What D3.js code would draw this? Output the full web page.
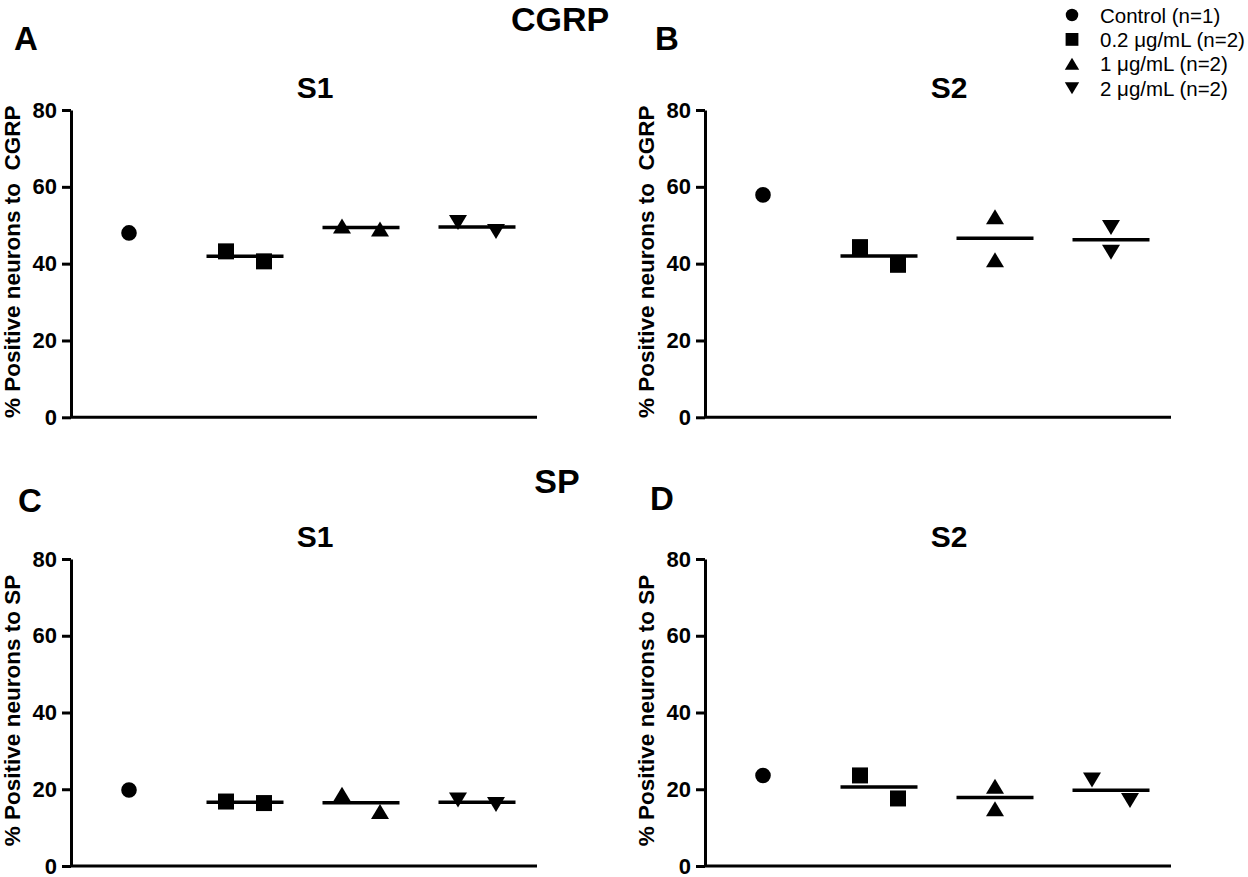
<!DOCTYPE html>
<html>
<head>
<meta charset="utf-8">
<script src="https://cdn.jsdelivr.net/npm/d3@7"></script>
<style>
body { margin: 0; background: #fff; }
text { font-family: "Liberation Sans", Arial, Helvetica, sans-serif; fill: #000; }
</style>
</head>
<body>
<div id="chart"></div>
<script>
// groups (legend order) and y ticks
const groups = ["Control (n=1)", "0.2 μg/mL (n=2)", "1 μg/mL (n=2)", "2 μg/mL (n=2)"];
const yTicks = [0, 20, 40, 60, 80];

// % positive neurons, one array per group
const cgrpS1 = [[48.0], [43.2, 40.6], [49.8, 49.0], [50.7, 48.4]];
const cgrpS2 = [[57.9], [44.3, 39.7], [52.2, 41.0], [49.4, 43.0]];
const spS1 = [[19.8], [16.8, 16.4], [18.7, 14.2], [17.2, 16.0]];
const spS2 = [[23.6], [23.6, 17.6], [20.8, 14.9], [22.4, 17.1]];

const shapes = ["circle", "square", "up", "down"];
// two points of a group get pushed apart when they sit closer than this (px)
const spreadGap = { circle: 0, square: 24, up: 21, down: 21 };

const width = 1248;
const height = 877;
const plotW = 466;

const panels = [
    { letter: "A", lx: 14, ly: 50, title: "S1", ylabel: "% Positive neurons to  CGRP", data: cgrpS1, x0: 71, top: 110, bottom: 417.3 },
    { letter: "B", lx: 655, ly: 50, title: "S2", ylabel: "% Positive neurons to  CGRP", data: cgrpS2, x0: 705, top: 110, bottom: 417.3 },
    { letter: "C", lx: 18, ly: 512, title: "S1", ylabel: "% Positive neurons to SP", data: spS1, x0: 71, top: 559, bottom: 866 },
    { letter: "D", lx: 650, ly: 510, title: "S2", ylabel: "% Positive neurons to SP", data: spS2, x0: 705, top: 559, bottom: 866 }
];

function symbolPath(shape, s) {
    if (shape == "circle") {
        let r = 7.8 * s;
        return `M${-r},0a${r},${r} 0 1,0 ${2 * r},0a${r},${r} 0 1,0 ${-2 * r},0Z`;
    }
    if (shape == "square") {
        let h = 8 * s;
        return `M${-h},${-h}H${h}V${h}H${-h}Z`;
    }
    let w = 9 * s, h = 7.5 * s;
    if (shape == "up") return `M0,${-h}L${w},${h}L${-w},${h}Z`;
    return `M0,${h}L${w},${-h}L${-w},${-h}Z`;
}

const svg = d3.select("#chart")
    .append("svg")
    .attr("width", width)
    .attr("height", height);

function drawPanel(p) {
    const x = d3.scaleBand().domain(groups).range([p.x0, p.x0 + 464]);
    const y = d3.scaleLinear().domain([0, 80]).range([p.bottom, p.top]);
    const g = svg.append("g");

    g.append("g")
        .attr("transform", `translate(${p.x0},0)`)
        .call(d3.axisLeft(y).tickValues(yTicks).tickSize(9).tickPadding(5).tickSizeOuter(0))
        .call(ax => {
            ax.select(".domain").attr("stroke-width", 3).attr("stroke", "#000");
            ax.selectAll(".tick line").attr("stroke-width", 3).attr("stroke", "#000");
            ax.selectAll(".tick text")
                .attr("font-size", 22)
                .attr("font-weight", "bold");
        });

    g.append("line")
        .attr("x1", p.x0)
        .attr("x2", p.x0 + plotW)
        .attr("y1", y(0))
        .attr("y2", y(0))
        .attr("stroke", "#000")
        .attr("stroke-width", 3);

    p.data.forEach((vals, i) => {
        const cx = x(groups[i]) + x.bandwidth() / 2;
        const shape = shapes[i];
        let offs = vals.map(() => 0);
        if (vals.length == 2 && Math.abs(y(vals[0]) - y(vals[1])) < spreadGap[shape]) {
            offs = vals[0] >= vals[1] ? [-19, 19] : [19, -19];
        }

        g.selectAll(null)
            .data(vals)
            .enter()
            .append("path")
            .attr("d", symbolPath(shape, 1))
            .attr("fill", "#000")
            .attr("transform", (d, j) => `translate(${cx + offs[j]},${y(d)})`);

        if (vals.length > 1) {
            const m = d3.mean(vals);
            g.append("line")
                .attr("x1", cx - 38.5)
                .attr("x2", cx + 38.5)
                .attr("y1", y(m))
                .attr("y2", y(m))
                .attr("stroke", "#000")
                .attr("stroke-width", 3.5);
        }
    });

    g.append("text")
        .attr("x", p.lx)
        .attr("y", p.ly)
        .attr("font-size", 33)
        .attr("font-weight", "bold")
        .text(p.letter);

    g.append("text")
        .attr("x", p.x0 + 244)
        .attr("y", p.top - 12)
        .attr("text-anchor", "middle")
        .attr("font-size", 30)
        .attr("font-weight", "bold")
        .text(p.title);

    g.append("text")
        .attr("transform", `translate(${p.x0 - 51},${(p.top + p.bottom) / 2 - 2}) rotate(-90)`)
        .attr("text-anchor", "middle")
        .attr("font-size", 22.5)
        .attr("font-weight", "bold")
        .style("white-space", "pre")
        .text(p.ylabel);
}

panels.forEach(drawPanel);

// section headers
svg.append("text")
    .attr("x", 560)
    .attr("y", 31)
    .attr("text-anchor", "middle")
    .attr("font-size", 34)
    .attr("font-weight", "bold")
    .text("CGRP");

svg.append("text")
    .attr("x", 557)
    .attr("y", 493)
    .attr("text-anchor", "middle")
    .attr("font-size", 34)
    .attr("font-weight", "bold")
    .text("SP");

// legend
const legend = svg.append("g");
legend.selectAll("path")
    .data(groups)
    .enter()
    .append("path")
    .attr("d", (d, i) => symbolPath(shapes[i], 0.8))
    .attr("fill", "#000")
    .attr("transform", (d, i) => `translate(1072,${15 + i * 24.4})`);

legend.selectAll("text")
    .data(groups)
    .enter()
    .append("text")
    .attr("x", 1100)
    .attr("y", (d, i) => 15 + i * 24.4 + 7.5)
    .attr("font-size", 20.5)
    .text(d => d);
</script>
</body>
</html>
